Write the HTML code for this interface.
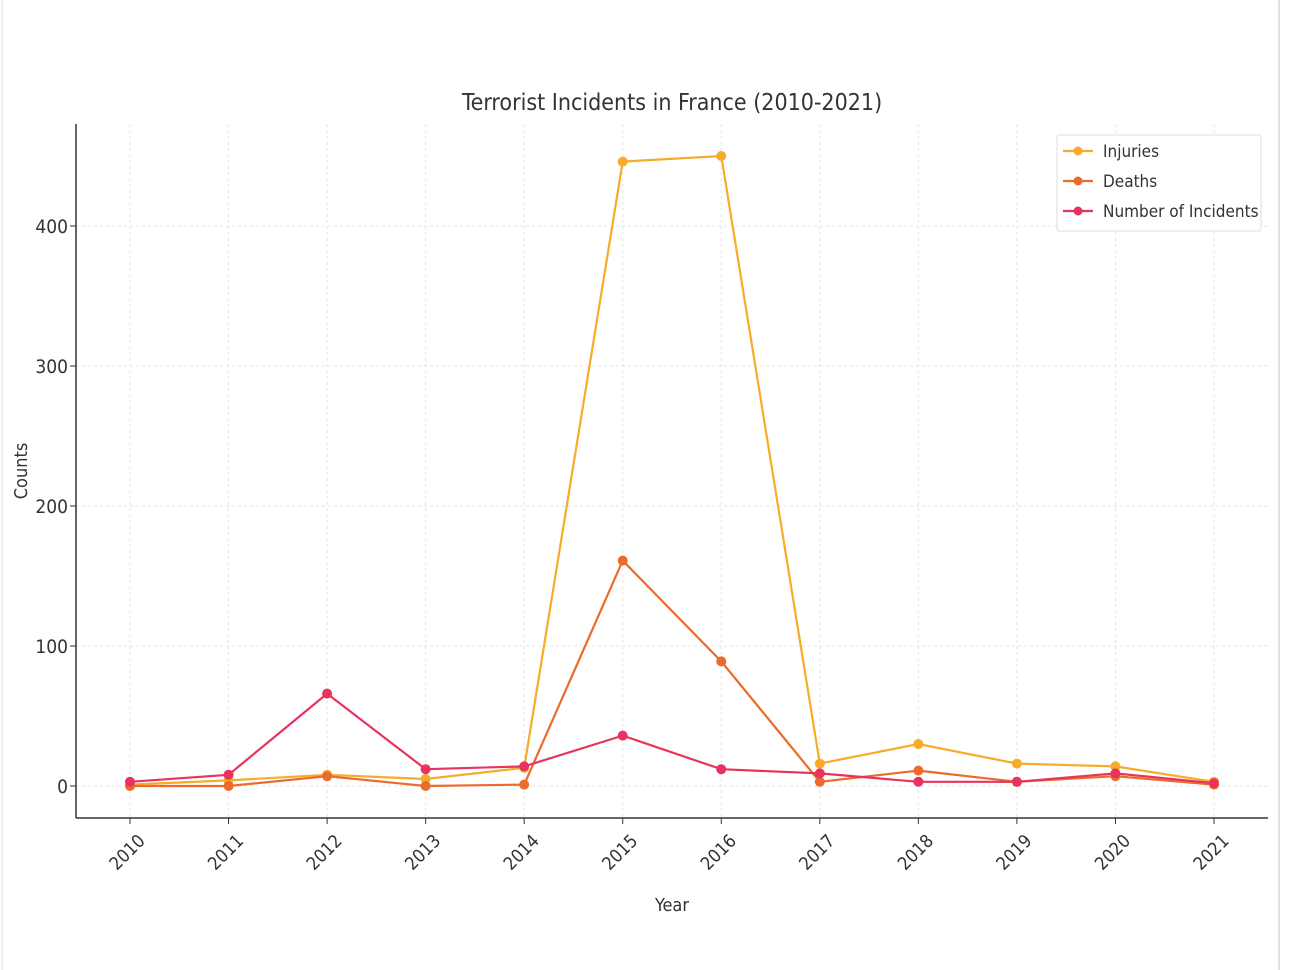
<!DOCTYPE html>
<html><head><meta charset="utf-8"><style>
body{margin:0;background:#fff;}
svg{display:block;font-family:"DejaVu Sans Condensed","Liberation Sans",sans-serif;}
</style></head><body>
<svg id="chart" width="1294" height="970" viewBox="0 0 1294 970" xmlns="http://www.w3.org/2000/svg">
<rect x="0" y="0" width="1294" height="970" fill="#fff"/>
<line x1="1279" y1="0" x2="1279" y2="970" stroke="#e2e2e2" stroke-width="2"/>
<line x1="2" y1="0" x2="2" y2="970" stroke="#eeeeee" stroke-width="2"/>
<text x="672" y="110" text-anchor="middle" font-size="23" fill="#333">Terrorist Incidents in France (2010-2021)</text>
<g id="grid"></g>
<g id="series"></g>
<line x1="76" y1="124" x2="76" y2="818" stroke="#333" stroke-width="1.5"/>
<line x1="76" y1="818" x2="1268" y2="818" stroke="#333" stroke-width="1.5"/>
<g id="ticks"></g>
<text x="672" y="911" text-anchor="middle" font-size="18" fill="#333">Year</text>
<text transform="translate(27,471) rotate(-90)" text-anchor="middle" font-size="18" fill="#333">Counts</text>
<g>
<rect x="1057" y="135" width="204" height="96" fill="#fff" stroke="#ddd" stroke-width="1" rx="2"/>
<g id="legend-items"></g>
</g>
</svg>
<script>
const years = [2010,2011,2012,2013,2014,2015,2016,2017,2018,2019,2020,2021];
const injuries = [1,4,8,5,13,446,450,16,30,16,14,3];
const deaths = [0,0,7,0,1,161,89,3,11,3,7,1];
const incidents = [3,8,66,12,14,36,12,9,3,3,9,2];
const yTicks = [0,100,200,300,400];
const seriesNames = ["Injuries","Deaths","Number of Incidents"];
const seriesColors = ["#f7ab2a","#ea6b2c","#e8335d"];

const NS="http://www.w3.org/2000/svg";
function xS(i){return 130 + i*(1214-130)/(years.length-1);}
function yS(v){return 786 - v*1.4;}
function mk(tag,attrs,parent){const e=document.createElementNS(NS,tag);for(const k in attrs)e.setAttribute(k,attrs[k]);parent.appendChild(e);return e;}
const grid=document.getElementById('grid'),ticks=document.getElementById('ticks'),ser=document.getElementById('series'),leg=document.getElementById('legend-items');
years.forEach((y,i)=>{
  const g=mk('line',{x1:xS(i),y1:124,x2:xS(i),y2:818,stroke:'#e4e4e4','stroke-dasharray':'3,3'},grid);
  
  
  const t=mk('line',{x1:xS(i),y1:818,x2:xS(i),y2:824,stroke:'#333'},ticks);
  
  
  const lx=xS(i)+16, ly=842;
  const l=mk('text',{x:lx,y:ly,'text-anchor':'end','font-size':'18',fill:'#333',transform:`rotate(-45 ${lx} ${ly})`},ticks);
  l.textContent=y;
  
  
});
yTicks.forEach(v=>{
  const g=mk('line',{x1:76,y1:yS(v),x2:1268,y2:yS(v),stroke:'#e4e4e4','stroke-dasharray':'3,3'},grid);
  
  
  const t=mk('line',{x1:70,y1:yS(v),x2:76,y2:yS(v),stroke:'#333'},ticks);
  
  
  const l=mk('text',{x:68,y:yS(v)+7,'text-anchor':'end','font-size':'19',fill:'#333'},ticks);
  l.textContent=v;
  
  
});
[injuries,deaths,incidents].forEach((arr,si)=>{
  const c=seriesColors[si];
  const g=mk('g',{},ser);
  
  
  const p=mk('polyline',{points:arr.map((v,i)=>xS(i)+','+yS(v)).join(' '),fill:'none',stroke:c,'stroke-width':2.2},g);
  
  
  arr.forEach((v,i)=>{
    const d=mk('circle',{cx:xS(i),cy:yS(v),r:5,fill:c},g);
    
    
  });
  const ly=151+si*30;
  const ll=mk('line',{x1:1063,y1:ly,x2:1093,y2:ly,stroke:c,'stroke-width':2.2},leg);
  
  
  const lc=mk('circle',{cx:1078,cy:ly,r:4.5,fill:c},leg);
  
  
  const lt=mk('text',{x:1103,y:ly+6,'font-size':'17',fill:'#333'},leg);
  lt.textContent=seriesNames[si];
  
  
});
</script>
</body></html>
